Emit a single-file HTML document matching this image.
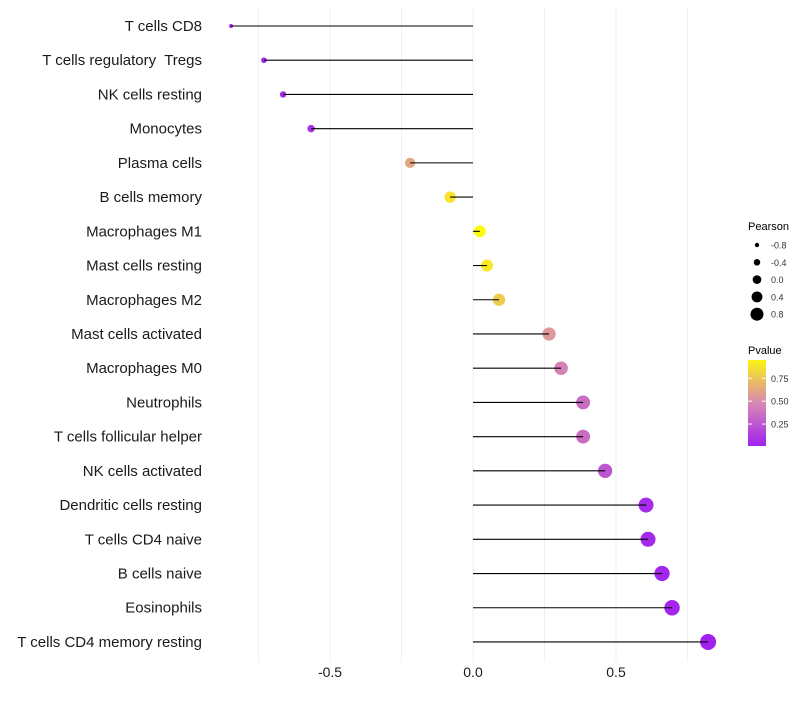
<!DOCTYPE html>
<html><head><meta charset="utf-8"><style>body{margin:0;background:#fff}svg{font-family:"Liberation Sans",sans-serif}text{white-space:pre}</style></head>
<body>
<svg id="c" width="800" height="700" xmlns="http://www.w3.org/2000/svg"></svg>
<script>
const categories=["T cells CD8","T cells regulatory  Tregs","NK cells resting","Monocytes","Plasma cells","B cells memory","Macrophages M1","Mast cells resting","Macrophages M2","Mast cells activated","Macrophages M0","Neutrophils","T cells follicular helper","NK cells activated","Dendritic cells resting","T cells CD4 naive","B cells naive","Eosinophils","T cells CD4 memory resting"];
const pearson=[-0.846,-0.731,-0.664,-0.566,-0.220,-0.080,0.024,0.049,0.091,0.266,0.308,0.385,0.385,0.462,0.605,0.612,0.661,0.696,0.822];
const pvalues=[0.02,0.04,0.05,0.08,0.62,0.88,0.98,0.90,0.78,0.56,0.45,0.35,0.35,0.25,0.05,0.04,0.03,0.02,0.01];
const xTicks=[-0.5,0,0.5];
const xTickLabels=["-0.5","0.0","0.5"];
const sizeLegend=[-0.8,-0.4,0.0,0.4,0.8];
const sizeLegendLabels=["-0.8","-0.4","0.0","0.4","0.8"];
const pTicks=[0.25,0.5,0.75];
const pTickLabels=["0.25","0.50","0.75"];

const svg=document.getElementById('c');const NS='http://www.w3.org/2000/svg';
function mk(t,a,p){const e=document.createElementNS(NS,t);for(const k in a)e.setAttribute(k,a[k]);(p||svg).appendChild(e);return e;}
const x=v=>473+v*286;
const y=i=>26+i*34.22;
const r=v=>Math.sqrt(Math.max(2,34.4+36*v));
const rl=v=>4.35+2.7*v;
function lerp(a,b,t){return a.map((c,i)=>Math.round(c+(b[i]-c)*t));}
function col(p){const s=[[160,32,240],[217,140,176],[255,255,0]];const c=p<0.5?lerp(s[0],s[1],p/0.5):lerp(s[1],s[2],(p-0.5)/0.5);return `rgb(${c})`;}
[-0.75,-0.5,-0.25,0,0.25,0.5,0.75].forEach(v=>{const g=mk('line',{x1:x(v),x2:x(v),y1:8,y2:662,stroke:'#f0f0f0','stroke-width':1});

});
categories.forEach((c,i)=>{
const t=mk('text',{x:202,y:y(i)+5,'text-anchor':'end','font-size':15,fill:'#1a1a1a'});t.textContent=c;


const pt=mk('circle',{cx:x(pearson[i]),cy:y(i),r:r(pearson[i]),fill:col(pvalues[i])});


const l=mk('line',{x1:x(0),x2:x(pearson[i]),y1:y(i),y2:y(i),stroke:'#000','stroke-width':1.1});


});
xTicks.forEach((v,i)=>{const t=mk('text',{x:x(v),y:677,'text-anchor':'middle','font-size':14,fill:'#1a1a1a'});t.textContent=xTickLabels[i];

});
const lt=mk('text',{x:748,y:230,'font-size':11,fill:'#000'});lt.textContent='Pearson';


sizeLegend.forEach((v,i)=>{const cy=245+i*17.3;
const c=mk('circle',{cx:757,cy:cy,r:rl(v),fill:'#000'});


const t=mk('text',{x:771,y:cy+3.5,'font-size':9,fill:'#333'});t.textContent=sizeLegendLabels[i];

});
const pt2=mk('text',{x:748,y:354,'font-size':11,fill:'#000'});pt2.textContent='Pvalue';


const defs=mk('defs',{});const lg=mk('linearGradient',{id:'g',x1:0,y1:1,x2:0,y2:0},defs);
[0,0.25,0.5,0.75,1].forEach(s=>mk('stop',{offset:s,'stop-color':col(0.01+s*0.94)},lg));
const bar=mk('rect',{x:748,y:360,width:18,height:86,fill:'url(#g)'});


const py=p=>446-(p-0.01)/0.94*86;
pTicks.forEach((p,i)=>{mk('line',{x1:748,x2:752,y1:py(p),y2:py(p),stroke:'#fff'});mk('line',{x1:762,x2:766,y1:py(p),y2:py(p),stroke:'#fff'});
const t=mk('text',{x:771,y:py(p)+3.5,'font-size':9,fill:'#333'});t.textContent=pTickLabels[i];

});
</script>
</body></html>
